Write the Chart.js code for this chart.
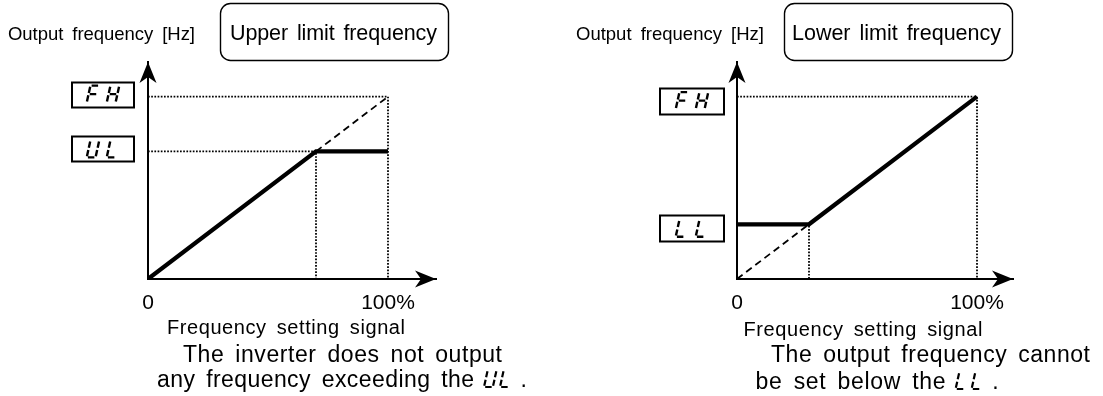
<!DOCTYPE html>
<html>
<head>
<meta charset="utf-8">
<script src="https://cdn.jsdelivr.net/npm/chart.js@4.4.1/dist/chart.umd.min.js"></script>
<style>
  html, body { margin: 0; padding: 0; background: #fff; }
  #wrap { position: relative; width: 1103px; height: 396px; overflow: hidden; }
  #wrap canvas { position: absolute; left: 0; top: 0; }
</style>
</head>
<body>
<div id="wrap">
  <canvas id="upperChart" width="1103" height="396"></canvas>
  <canvas id="lowerChart" width="1103" height="396"></canvas>
</div>
<script>
// ---- data ----
const signalTicks = [0, 100];
const signalTickLabels = ['0', '100%'];

// upper limit panel
const upperSignal = [0, 70, 100];
const upperOutput = [0, 70, 70];
const upperRefSignal = [70, 100];
const upperRefOutput = [70, 100];
const upperLevels = [100, 70];
const upperLevelCodes = ['FH', 'UL'];
const upperDropSignal = [100, 70];   // where the dotted guides turn down

// lower limit panel
const lowerSignal = [0, 30, 100];
const lowerOutput = [30, 30, 100];
const lowerRefSignal = [0, 30];
const lowerRefOutput = [0, 30];
const lowerLevels = [100, 30];
const lowerLevelCodes = ['FH', 'LL'];
const lowerDropSignal = [100, 30];

const FONT = '"Liberation Sans", Arial, sans-serif';

// 7-segment letters used on the inverter panel
const SEGMENTS = { F: 'afeg', H: 'bcefg', U: 'bcdef', L: 'def' };

function drawSegChar(ctx, ch, x, bottom, h, lw) {
  const w = h * 0.52, g = h * 0.07, sl = 0.22;
  const P = (px, py) => [x + px + (h - py) * sl, bottom - h + py];
  const segs = {
    a: [[g, 0], [w - g, 0]], b: [[w, g], [w, h / 2 - g]], c: [[w, h / 2 + g], [w, h - g]],
    d: [[g, h], [w - g, h]], e: [[0, h / 2 + g], [0, h - g]], f: [[0, g], [0, h / 2 - g]],
    g: [[g, h / 2], [w - g, h / 2]]
  };
  ctx.beginPath();
  for (const s of SEGMENTS[ch]) {
    const [p0, p1] = segs[s];
    ctx.moveTo(...P(...p0));
    ctx.lineTo(...P(...p1));
  }
  ctx.lineWidth = lw;
  ctx.lineCap = 'butt';
  ctx.stroke();
  return w + h * sl;
}

function drawCode(ctx, code, x, bottom, h, pitch, lw) {
  let end = x;
  [...code].forEach((c, i) => { end = x + i * pitch + drawSegChar(ctx, c, x + i * pitch, bottom, h, lw); });
  return end;
}

// text spread to a measured width (the source uses wide spacing)
function fitText(ctx, text, x, base, size, width, ws) {
  ctx.font = size + 'px ' + FONT;
  ctx.textBaseline = 'alphabetic';
  ctx.textAlign = 'left';
  const chars = [...text];
  let natural = 0;
  chars.forEach(c => natural += ctx.measureText(c).width + (c === ' ' ? ws : 0));
  const ls = chars.length > 1 ? (width - natural) / (chars.length - 1) : 0;
  let cx = x;
  chars.forEach(c => {
    ctx.fillText(c, cx, base);
    cx += ctx.measureText(c).width + (c === ' ' ? ws : 0) + ls;
  });
  return cx - ls;
}

function roundRect(ctx, x, y, w, h, r) {
  ctx.beginPath();
  ctx.moveTo(x + r, y);
  ctx.arcTo(x + w, y, x + w, y + h, r);
  ctx.arcTo(x + w, y + h, x, y + h, r);
  ctx.arcTo(x, y + h, x, y, r);
  ctx.arcTo(x, y, x + w, y, r);
  ctx.closePath();
}

function arrowHead(ctx, tx, ty, dx, dy) {
  const len = 21, half = 8.5, notch = 6;
  const nx = -dy, ny = dx;
  const bx = tx - len * dx, by = ty - len * dy;
  ctx.beginPath();
  ctx.moveTo(tx, ty);
  ctx.lineTo(bx + half * nx, by + half * ny);
  ctx.lineTo(tx - (len - notch) * dx, ty - (len - notch) * dy);
  ctx.lineTo(bx - half * nx, by - half * ny);
  ctx.closePath();
  ctx.fill();
}

function diagramPlugin(L) {
  return {
    id: 'diagram_' + L.name,
    afterDraw(chart) {
      const ctx = chart.ctx, xs = chart.scales.x, ys = chart.scales.y, area = chart.chartArea;
      const ox = xs.getPixelForValue(0), oy = ys.getPixelForValue(0);
      ctx.save();
      ctx.fillStyle = '#000';
      ctx.strokeStyle = '#000';

      arrowHead(ctx, area.right, oy, 1, 0);
      arrowHead(ctx, ox, area.top, 0, -1);

      // level code boxes (FH / UL / LL)
      L.levels.forEach((lv, i) => {
        const cy = ys.getPixelForValue(lv) + L.box.dy;
        const bx = ox + L.box.dx;
        ctx.lineWidth = 2;
        ctx.strokeRect(bx, Math.round(cy - L.box.h / 2) + 0.5, L.box.w, L.box.h);
        const gh = 17, pitch = 20, gw = gh * 0.52 + gh * 0.22;
        const gx = bx + L.box.w / 2 - (pitch + gw) / 2;
        drawCode(ctx, L.codes[i], gx, cy + gh / 2, gh, pitch, 2.4);
      });

      // header text and title box
      fitText(ctx, 'Output frequency [Hz]', L.head.x, L.head.base, 18.5, L.head.width, 4);
      ctx.lineWidth = 1.4;
      roundRect(ctx, L.title.x, L.title.y, L.title.w, L.title.h, 10);
      ctx.stroke();
      fitText(ctx, L.title.text, L.title.tx, L.title.base, 21.5, L.title.tw, 3);

      // x-axis title and caption
      fitText(ctx, 'Frequency setting signal', L.xTitle.x, L.xTitle.base, 20, L.xTitle.width, 4);
      fitText(ctx, L.cap1.text, L.cap1.x, L.cap1.base, 23, L.cap1.width, 4);
      const end = fitText(ctx, L.cap2.text, L.cap2.x, L.cap2.base, 23, L.cap2.width, 4);
      const codeEnd = drawCode(ctx, L.cap2.code, end + 10, L.cap2.base, 17, 16, 2.2);
      ctx.font = '23px ' + FONT;
      ctx.fillText('.', codeEnd + 8, L.cap2.base);
      ctx.restore();
    }
  };
}

function panelDatasets(sig, out, refSig, refOut, levels, drops) {
  const pts = (xv, yv) => xv.map((x, i) => ({ x, y: yv[i] }));
  const sets = [
    { data: pts(sig, out), borderWidth: 4.2, borderJoinStyle: 'miter' },
    { data: pts(refSig, refOut), borderWidth: 1.8, borderDash: [7, 4.5] }
  ];
  levels.forEach((lv, i) => sets.push({
    data: [{ x: 0, y: lv }, { x: drops[i], y: lv }, { x: drops[i], y: 0 }],
    borderWidth: 1.8, borderDash: [1.7, 1.5]
  }));
  return sets.map(s => Object.assign({
    borderColor: '#000', pointRadius: 0, tension: 0, fill: false, borderCapStyle: 'butt'
  }, s));
}

function makeChart(id, datasets, xMax, pad, spec) {
  return new Chart(document.getElementById(id), {
    type: 'line',
    data: { datasets },
    options: {
      responsive: false,
      animation: false,
      events: [],
      layout: { padding: pad, autoPadding: false },
      plugins: { legend: { display: false }, tooltip: { enabled: false } },
      scales: {
        x: {
          type: 'linear', min: 0, max: xMax,
          grid: { display: false, drawTicks: false },
          border: { display: true, color: '#000', width: 2 },
          ticks: {
            font: { family: FONT, size: 21 }, color: '#000', padding: 12, maxRotation: 0,
            callback: v => signalTickLabels[signalTicks.indexOf(v)]
          },
          afterBuildTicks: s => { s.ticks = signalTicks.map(v => ({ value: v })); },
          afterFit: s => { s.height = 40; }
        },
        y: {
          type: 'linear', min: 0, max: 119,
          grid: { display: false, drawTicks: false },
          border: { display: true, color: '#000', width: 2 },
          ticks: { display: false },
          afterFit: s => { s.width = 0; }
        }
      }
    },
    plugins: [diagramPlugin(spec)]
  });
}

makeChart('upperChart',
  panelDatasets(upperSignal, upperOutput, upperRefSignal, upperRefOutput, upperLevels, upperDropSignal),
  120, { left: 148, right: 667, top: 62, bottom: 77 },
  {
    name: 'upper', levels: upperLevels, codes: upperLevelCodes,
    box: { dx: -76, w: 62, h: 25, dy: -2.5 },
    head: { x: 8, base: 40, width: 187 },
    title: { x: 220.5, y: 3.5, w: 228, h: 57, text: 'Upper limit frequency', tx: 230, base: 39.5, tw: 207 },
    xTitle: { x: 167, base: 334, width: 238 },
    cap1: { text: 'The inverter does not output', x: 183, base: 362, width: 319 },
    cap2: { text: 'any frequency exceeding the', x: 157, base: 387, width: 317, code: 'UL' }
  });

makeChart('lowerChart',
  panelDatasets(lowerSignal, lowerOutput, lowerRefSignal, lowerRefOutput, lowerLevels, lowerDropSignal),
  115, { left: 737, right: 90, top: 62, bottom: 77 },
  {
    name: 'lower', levels: lowerLevels, codes: lowerLevelCodes,
    box: { dx: -77, w: 64, h: 26, dy: 4 },
    head: { x: 576, base: 40, width: 188 },
    title: { x: 784.5, y: 3.5, w: 228, h: 57, text: 'Lower limit frequency', tx: 792, base: 39.5, tw: 209 },
    xTitle: { x: 743.5, base: 336, width: 239 },
    cap1: { text: 'The output frequency cannot', x: 771, base: 362, width: 319 },
    cap2: { text: 'be set below the', x: 755.6, base: 389, width: 190, code: 'LL' }
  });
</script>
</body>
</html>
